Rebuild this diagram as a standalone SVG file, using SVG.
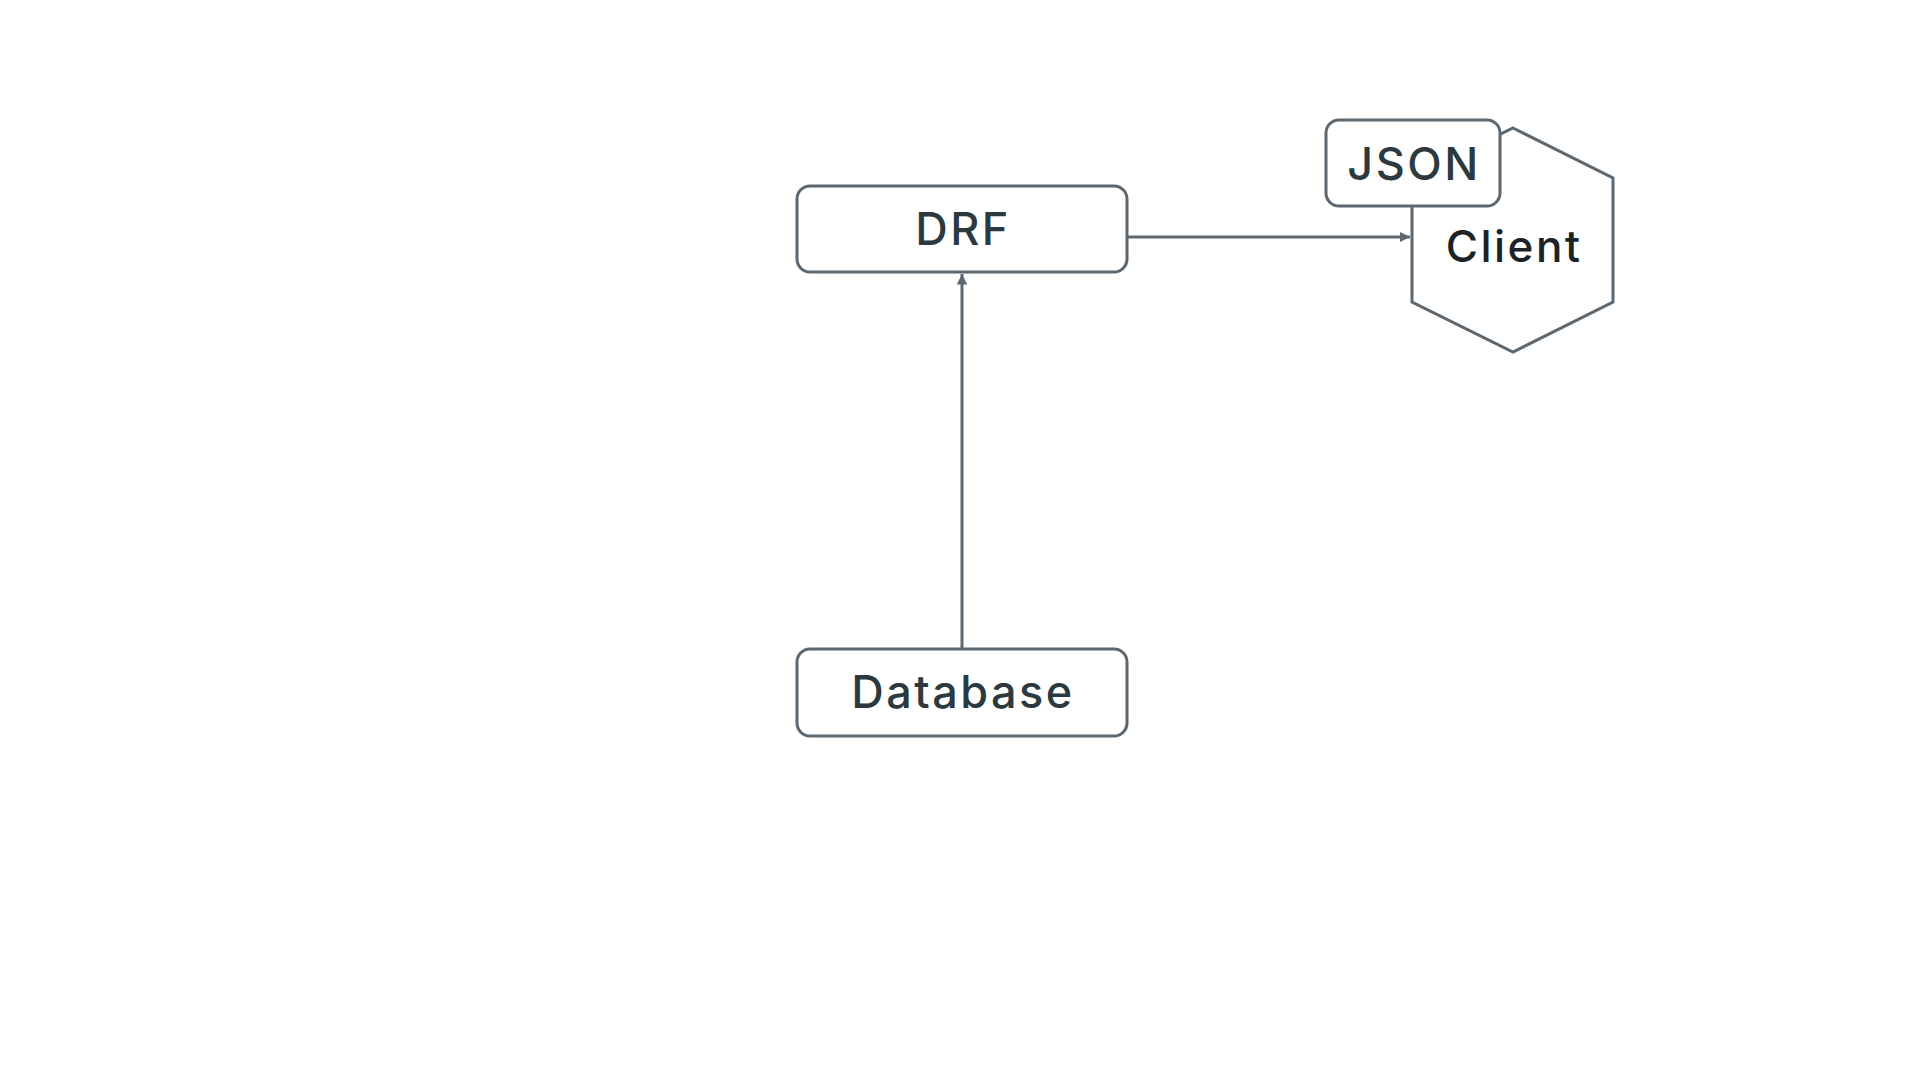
<svg xmlns="http://www.w3.org/2000/svg" width="1920" height="1080" viewBox="0 0 1920 1080">
  <defs>
    <style>
      .box { fill: #ffffff; stroke: #5c6770; stroke-width: 3; }
      .hex { fill: #ffffff; stroke: #5c6770; stroke-width: 3; stroke-linejoin: miter; }
      .label { font-family: Inter, "Noto Sans", "Liberation Sans", sans-serif; font-size: 45px; font-weight: 500; letter-spacing: 2.5px; fill: #2c3a40; text-anchor: middle; }
      .client { font-family: Inter, "Noto Sans", "Liberation Sans", sans-serif; font-size: 44px; font-weight: 500; letter-spacing: 2.5px; fill: #1c2326; text-anchor: middle; }
      .edge { fill: none; stroke: #5c6770; stroke-width: 3; }
    </style>
    <marker id="arrow" viewBox="0 0 10 10" refX="10" refY="5" markerWidth="3.5" markerHeight="3.5" orient="auto">
      <path d="M0,0 L10,5 L0,10 z" fill="#5c6770"/>
    </marker>
  </defs>
  <rect width="1920" height="1080" fill="#ffffff"/>

  <!-- connectors -->
  <g id="edges">
    <line class="edge" x1="962" y1="648" x2="962" y2="274" marker-end="url(#arrow)"/>
    <line class="edge" x1="1127" y1="237" x2="1410" y2="237" marker-end="url(#arrow)"/>
  </g>

  <g id="drf">
    <rect class="box" x="797" y="186" width="330" height="86" rx="13"/>
    <text class="label" x="963" y="245">DRF</text>
  </g>

  <g id="database">
    <rect class="box" x="797" y="649" width="330" height="87" rx="13"/>
    <text class="label" x="963" y="708">Database</text>
  </g>

  <g id="client">
    <polygon class="hex" points="1513,128 1613,178 1613,302 1513,352 1412,302 1412,178"/>
    <text class="client" x="1514" y="262">Client</text>
  </g>

  <g id="json">
    <rect class="box" x="1326" y="120" width="174" height="86" rx="13"/>
    <text class="label" x="1414" y="180" font-size="46">JSON</text>
  </g>
</svg>
